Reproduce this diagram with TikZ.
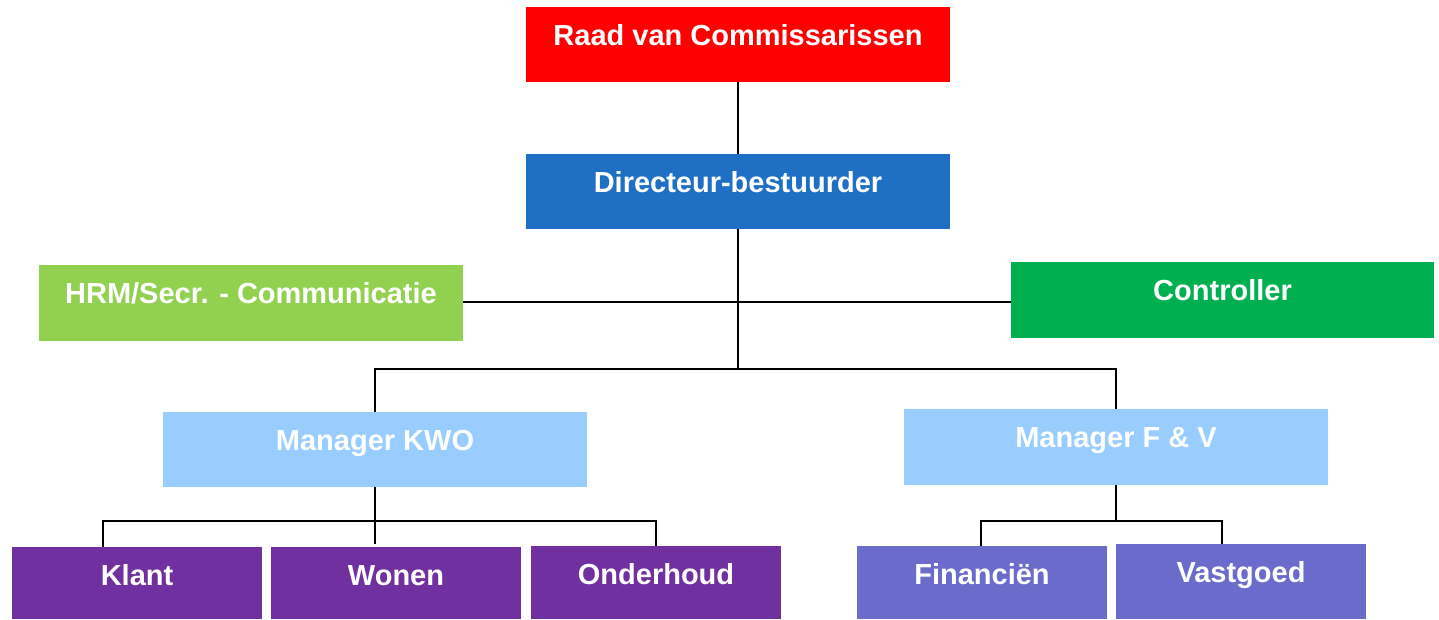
\documentclass[tikz,border=0pt]{standalone}
\usepackage{fontspec}
\setmainfont{Liberation Sans}
\definecolor{raadred}{HTML}{FF0000}
\definecolor{dirblue}{HTML}{1F6FC5}
\definecolor{hrmgreen}{HTML}{92D050}
\definecolor{ctrlgreen}{HTML}{00B050}
\definecolor{mgrblue}{HTML}{99CCFF}
\definecolor{deptpurple}{HTML}{7030A0}
\definecolor{finviolet}{HTML}{6B6BCC}
\newcommand\orgbox[7]{%
  \node[box, fill=#6, minimum width={(#4-#2)*1pt}, minimum height={(#5-#3)*1pt}] (#1) at ({(#2+#4)/2},{(#3+#5)/2}) {};
  \node[lbl] (#1-t) at ({(#2+#4)/2},{#3+38.5}) {#7};
}
\begin{document}
\begin{tikzpicture}[x=1pt,y=-1pt,
  box/.style={draw=none, inner sep=0pt, outer sep=0pt, rectangle},
  lbl/.style={text=white, font=\fontsize{29}{34}\selectfont\bfseries, anchor=base, inner sep=0pt},
  conn/.style={line width=2pt, black, line join=miter}]
\useasboundingbox (0,0) rectangle (1439,619);
\orgbox{raad}{526}{7}{950}{82}{raadred}{Raad van Commissarissen}
\orgbox{dir}{526}{154}{950}{229}{dirblue}{Directeur-bestuurder}
\orgbox{hrm}{39}{265}{463}{341}{hrmgreen}{HRM/Secr. - Communicatie}
\orgbox{ctrl}{1011}{262}{1434}{338}{ctrlgreen}{Controller}
\orgbox{kwo}{163}{412}{587}{487}{mgrblue}{Manager KWO}
\orgbox{fv}{904}{409}{1328}{485}{mgrblue}{Manager F \& V}
\orgbox{klant}{12}{547}{262}{619}{deptpurple}{Klant}
\orgbox{wonen}{271}{547}{521}{619}{deptpurple}{Wonen}
\orgbox{onder}{531}{546}{781}{619}{deptpurple}{Onderhoud}
\orgbox{fin}{857}{546}{1107}{619}{finviolet}{Financiën}
\orgbox{vast}{1116}{544}{1366}{619}{finviolet}{Vastgoed}
% connectors
\coordinate (j1) at (738,369);
\coordinate (h) at (738,302);
\coordinate (kc) at (375,544);
\coordinate (fc) at (1116,521);
\draw[conn] (raad.south) -- (dir.north);
\draw[conn] (dir.south -| j1) -- (j1);
\draw[conn] (hrm.east |- h) -- (ctrl.west |- h);
\draw[conn] (kwo.north -| kc) |- (j1) -| (fv.north -| fc);
\coordinate (kl) at (103,521);
\coordinate (kr) at (656,521);
\draw[conn] (kwo.south -| kc) -- (kc);
\draw[conn] (klant.north -| kl) -- (kl) -- (kr) -- (onder.north -| kr);
\coordinate (fl) at (981,521);
\coordinate (fr) at (1222,521);
\draw[conn] (fv.south -| fc) -- (fc);
\draw[conn] (fin.north -| fl) -- (fl) -- (fr) -- (vast.north -| fr);
\end{tikzpicture}
\end{document}
